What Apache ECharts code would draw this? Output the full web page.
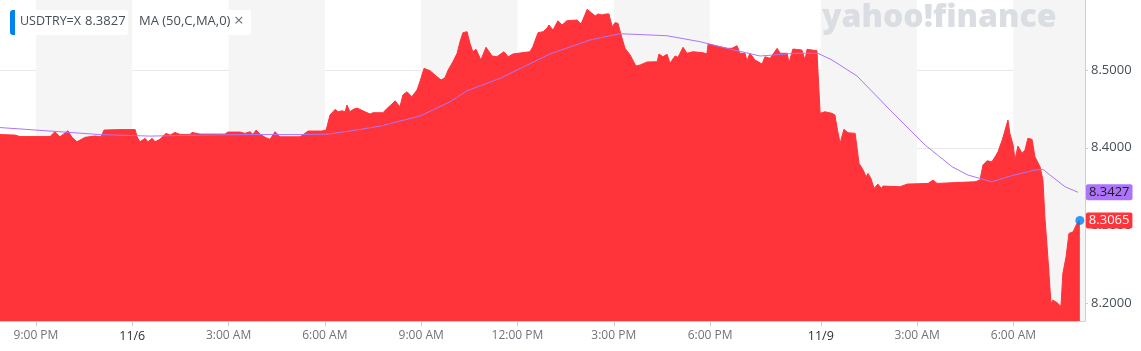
<!DOCTYPE html>
<html>
<head>
<meta charset="utf-8">
<title>USDTRY=X</title>
<script src="https://cdn.jsdelivr.net/npm/echarts@6/dist/echarts.min.js"></script>
<style>
  html, body { margin: 0; padding: 0; background: #fff; }
  #box { width: 1141px; height: 351px; }
</style>
</head>
<body>
<div id="box"></div>
<script>
// x = trading hours counted from 11/5 00:00 (weekend squeezed out, like the yahoo chart)
const usdtry = [
  [19.88, 8.4170], [20.35, 8.4163], [20.41, 8.4185], [20.50, 8.4144], [21.44, 8.4144], [21.59, 8.4206],
  [21.75, 8.4141], [22.00, 8.4219], [22.12, 8.4134], [22.28, 8.4077], [22.53, 8.4134], [22.84, 8.4151],
  [23.03, 8.4141], [23.12, 8.4228], [23.62, 8.4234], [24.09, 8.4234], [24.15, 8.4141], [24.24, 8.4077],
  [24.40, 8.4121], [24.49, 8.4077], [24.62, 8.4121], [24.71, 8.4077], [24.86, 8.4108], [25.05, 8.4185],
  [25.18, 8.4163], [25.33, 8.4198], [25.49, 8.4172], [25.80, 8.4172], [25.86, 8.4198], [26.11, 8.4176],
  [26.89, 8.4176], [26.98, 8.4202], [27.36, 8.4202], [27.51, 8.4185], [27.67, 8.4206], [27.76, 8.4172],
  [27.86, 8.4228], [27.98, 8.4176], [28.14, 8.4134], [28.29, 8.4108], [28.45, 8.4206], [28.60, 8.4141],
  [29.23, 8.4141], [29.48, 8.4215], [29.91, 8.4215], [30.04, 8.4228], [30.16, 8.4421], [30.32, 8.4494],
  [30.41, 8.4463], [30.53, 8.4476], [30.63, 8.4463], [30.69, 8.4550], [30.78, 8.4463], [30.88, 8.4494],
  [31.00, 8.4511], [31.10, 8.4494], [31.25, 8.4463], [31.41, 8.4434], [31.50, 8.4451], [31.81, 8.4451],
  [31.94, 8.4507], [32.09, 8.4563], [32.19, 8.4605], [32.25, 8.4572], [32.34, 8.4528], [32.43, 8.4679],
  [32.56, 8.4721], [32.71, 8.4657], [32.87, 8.4743], [32.96, 8.4850], [33.09, 8.5022], [33.28, 8.4991],
  [33.43, 8.4936], [33.62, 8.4872], [33.74, 8.4901], [33.84, 8.5000], [33.99, 8.5107], [34.12, 8.5216],
  [34.21, 8.5365], [34.30, 8.5481], [34.43, 8.5494], [34.52, 8.5344], [34.61, 8.5236], [34.71, 8.5267],
  [34.86, 8.5129], [35.02, 8.5293], [35.21, 8.5181], [35.36, 8.5172], [35.58, 8.5236], [35.71, 8.5172],
  [35.86, 8.5207], [36.02, 8.5216], [36.39, 8.5236], [36.48, 8.5301], [36.64, 8.5481], [36.80, 8.5494],
  [36.92, 8.5538], [36.98, 8.5580], [37.11, 8.5516], [37.26, 8.5635], [37.39, 8.5580], [37.54, 8.5635],
  [37.86, 8.5644], [37.98, 8.5593], [38.10, 8.5709], [38.17, 8.5782], [38.32, 8.5731], [38.42, 8.5696],
  [38.51, 8.5722], [38.63, 8.5709], [38.76, 8.5722], [38.85, 8.5722], [38.95, 8.5558], [39.04, 8.5610],
  [39.13, 8.5602], [39.23, 8.5451], [39.35, 8.5280], [39.51, 8.5194], [39.69, 8.5052], [39.82, 8.5065],
  [40.04, 8.5104], [40.35, 8.5107], [40.41, 8.5207], [40.53, 8.5172], [40.66, 8.5203], [40.75, 8.5087],
  [40.91, 8.5181], [41.00, 8.5164], [41.16, 8.5293], [41.28, 8.5216], [41.47, 8.5236], [41.78, 8.5223],
  [41.90, 8.5207], [41.94, 8.5335], [42.22, 8.5310], [42.53, 8.5280], [42.68, 8.5280], [42.84, 8.5313],
  [42.93, 8.5216], [43.09, 8.5216], [43.15, 8.5120], [43.24, 8.5216], [43.40, 8.5129], [43.62, 8.5078],
  [43.71, 8.5172], [43.87, 8.5151], [44.09, 8.5280], [44.18, 8.5216], [44.40, 8.5216], [44.46, 8.5094],
  [44.58, 8.5271], [44.86, 8.5258], [44.96, 8.5129], [45.02, 8.5267], [45.33, 8.5249], [45.36, 8.5000],
  [45.43, 8.4443], [45.58, 8.4463], [45.80, 8.4443], [45.89, 8.4421], [45.95, 8.4270], [46.05, 8.4056],
  [46.11, 8.4077], [46.17, 8.4237], [46.30, 8.4193], [46.52, 8.4185], [46.58, 8.3992], [46.64, 8.3799],
  [46.77, 8.3713], [46.86, 8.3626], [46.92, 8.3670], [47.01, 8.3606], [47.11, 8.3477], [47.23, 8.3532],
  [47.33, 8.3477], [47.39, 8.3507], [47.92, 8.3498], [48.14, 8.3532], [48.79, 8.3541], [48.95, 8.3584],
  [49.07, 8.3541], [50.00, 8.3558], [50.25, 8.3562], [50.41, 8.3584], [50.50, 8.3777], [50.63, 8.3832],
  [50.78, 8.3820], [50.88, 8.3884], [50.97, 8.3948], [51.10, 8.4099], [51.19, 8.4228], [51.28, 8.4357],
  [51.34, 8.4185], [51.44, 8.4035], [51.50, 8.3841], [51.59, 8.4022], [51.72, 8.3928], [51.81, 8.3970],
  [51.90, 8.4121], [52.03, 8.4108], [52.12, 8.3884], [52.28, 8.3755], [52.37, 8.3584], [52.43, 8.3111],
  [52.53, 8.2553], [52.62, 8.1996], [52.68, 8.2039], [52.84, 8.1996], [52.93, 8.1952], [52.99, 8.2382],
  [53.09, 8.2596], [53.18, 8.2897], [53.31, 8.2918], [53.43, 8.3026], [53.52, 8.3065]
];
// MA (50,C,MA,0)
const ma50 = [
  [19.88, 8.4260], [21.44, 8.4215], [22.99, 8.4170], [24.55, 8.4150], [26.11, 8.4163], [27.67, 8.4170],
  [29.23, 8.4170], [30.10, 8.4176], [30.78, 8.4215], [31.72, 8.4279], [32.96, 8.4408], [33.90, 8.4592],
  [34.43, 8.4734], [35.46, 8.4894], [37.01, 8.5207], [38.26, 8.5387], [38.73, 8.5429], [39.19, 8.5468],
  [40.66, 8.5442], [41.69, 8.5365], [42.31, 8.5301], [43.56, 8.5181], [44.65, 8.5216], [45.36, 8.5216],
  [45.80, 8.5129], [46.58, 8.4923], [47.61, 8.4485], [48.70, 8.4035], [49.54, 8.3755], [50.04, 8.3648],
  [50.78, 8.3562], [51.34, 8.3635], [52.12, 8.3713], [52.37, 8.3722], [52.59, 8.3648], [53.06, 8.3498],
  [53.46, 8.3427]
];
const tickHours = [21, 24, 27, 30, 33, 36, 39, 42, 45.45, 48.45, 51.45];
const tickLabels = ['9:00 PM', '11/6', '3:00 AM', '6:00 AM', '9:00 AM', '12:00 PM', '3:00 PM', '6:00 PM', '11/9', '3:00 AM', '6:00 AM'];
const priceTicks = [8.2, 8.3, 8.4, 8.5];
// shaded 3h columns
const bands = [[21, 24], [27, 30], [33, 36], [39, 42], [45.45, 48.45], [51.45, 53.68]];

const red = '#ff333a';
const purple = '#ad74f9';
const blue = '#0081f2';
const font = '"Open Sans", "Noto Sans", sans-serif';

let box = document.getElementById('box');
let myChart = echarts.init(box);
const last = usdtry[usdtry.length - 1];

const option = {
  animation: false,
  textStyle: { fontFamily: font },
  grid: { left: 0, right: 56, top: 0, bottom: 30 },
  xAxis: {
    type: 'value',
    min: 19.88,
    max: 53.68,
    axisLine: { lineStyle: { color: '#d4d4d4' } },
    axisTick: { customValues: tickHours, length: 5, lineStyle: { color: '#c8c8c8' } },
    axisLabel: {
      customValues: tickHours,
      margin: 9,
      fontSize: 12,
      color: '#6f747a',
      formatter: function (v) {
        const t = tickLabels[tickHours.indexOf(v)] || '';
        return t.indexOf('/') > 0 ? '{d|' + t + '}' : t;
      },
      rich: { d: { color: '#2b2f33', fontSize: 12.5, fontFamily: font } }
    },
    splitLine: { show: false }
  },
  yAxis: {
    type: 'value',
    position: 'right',
    min: 8.177,
    max: 8.5902,
    axisLine: { show: true, lineStyle: { color: '#cfcfcf' } },
    axisTick: { show: true, customValues: priceTicks, length: 3, lineStyle: { color: '#cfcfcf' } },
    axisLabel: {
      customValues: priceTicks,
      margin: 6,
      fontSize: 13,
      color: '#464e56',
      formatter: v => v.toFixed(4)
    },
    splitLine: { show: true, lineStyle: { color: '#e9e9e9' } }
  },
  graphic: [
    { type: 'text', left: 822, top: 2, z: 1.5, silent: true,
      style: { text: 'yahoo!finance', font: '800 32px ' + font, fill: '#dadde1' } },
    { type: 'rect', left: 10, top: 10, z: 10, shape: { width: 118, height: 25, r: 3 }, style: { fill: '#fff' } },
    { type: 'rect', left: 10, top: 10, z: 11, shape: { width: 5, height: 25, r: [3, 0, 0, 3] }, style: { fill: blue } },
    { type: 'text', left: 20, top: 15, z: 11, style: { text: 'USDTRY=X', font: '500 12.5px ' + font, fill: '#464e56' } },
    { type: 'text', left: 85, top: 15, z: 11, style: { text: '8.3827', font: '500 13px ' + font, fill: '#464e56' } },
    { type: 'rect', left: 133, top: 10, z: 10, shape: { width: 118, height: 25, r: 3 }, style: { fill: '#fff' } },
    { type: 'text', left: 139, top: 15, z: 11, style: { text: 'MA (50,C,MA,0)', font: '500 13px ' + font, fill: '#464e56' } },
    { type: 'text', left: 234, top: 13, z: 11, style: { text: '×', font: '17px ' + font, fill: '#6f747a' } }
  ],
  series: [
    {
      name: 'USDTRY=X',
      type: 'line',
      data: usdtry,
      showSymbol: false,
      z: 2,
      lineStyle: { color: red, width: 1 },
      itemStyle: { color: red },
      areaStyle: { color: red, opacity: 1, origin: 'start' },
      endLabel: {
        show: true,
        formatter: p => p.value[1].toFixed(4),
        distance: 6,
        color: '#fff',
        fontSize: 13,
        backgroundColor: red,
        padding: [2, 3, 1, 3],
        borderRadius: 2
      },
      markArea: {
        silent: true,
        itemStyle: { color: '#f5f5f5' },
        data: bands.map(b => [{ xAxis: b[0] }, { xAxis: b[1] }])
      }
    },
    {
      name: 'MA (50,C,MA,0)',
      type: 'line',
      data: ma50,
      showSymbol: false,
      z: 3,
      lineStyle: { color: purple, width: 1 },
      itemStyle: { color: purple },
      endLabel: {
        show: true,
        formatter: p => p.value[1].toFixed(4),
        distance: 8,
        color: '#1d1d1f',
        fontSize: 13,
        backgroundColor: purple,
        padding: [2, 3, 1, 3],
        borderRadius: 2
      }
    },
    {
      type: 'scatter',
      data: [last],
      symbolSize: 9,
      z: 5,
      itemStyle: { color: blue }
    }
  ]
};
myChart.setOption(option);
window.onresize = function () {
  myChart.resize();
};
</script>
</body>
</html>
